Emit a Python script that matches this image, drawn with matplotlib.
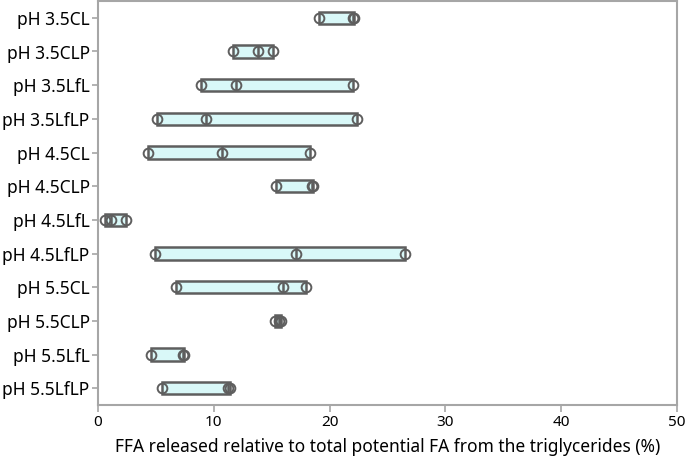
import numpy as np
import matplotlib.pyplot as plt

plt.rcParams['font.family'] = ['Noto Sans', 'DejaVu Sans']

# Groups, top to bottom
groups = ['pH 3.5CL', 'pH 3.5CLP', 'pH 3.5LfL', 'pH 3.5LfLP',
          'pH 4.5CL', 'pH 4.5CLP', 'pH 4.5LfL', 'pH 4.5LfLP',
          'pH 5.5CL', 'pH 5.5CLP', 'pH 5.5LfL', 'pH 5.5LfLP']

# FFA released (%) - three replicates per group
ffa = [
    [19.1, 22.0, 22.1],
    [11.7, 13.8, 15.1],
    [8.9, 11.9, 22.0],
    [5.1, 9.3, 22.4],
    [4.3, 10.7, 18.3],
    [15.4, 18.45, 18.55],
    [0.6, 1.1, 2.4],
    [4.9, 17.1, 26.5],
    [6.7, 16.0, 18.0],
    [15.3, 15.6, 15.8],
    [4.6, 7.3, 7.4],
    [5.5, 11.2, 11.4],
]

xticks = [0, 10, 20, 30, 40, 50]
xlabel = 'FFA released relative to total potential FA from the triglycerides (%)'

edge = '#5e5e5e'
frame = '#a6a6a6'
box_h = 0.36

fig = plt.figure(figsize=(6.85, 4.65), dpi=100)
ax = fig.add_axes([98 / 685, 1 - 405 / 465, 579 / 685, 404 / 465])

pos = np.arange(len(groups))
for i, vals in enumerate(ffa):
    vals = np.sort(vals)
    ax.barh(i, vals[-1] - vals[0], left=vals[0], height=box_h,
            color='#d9f8f8', edgecolor=edge, linewidth=1.8, zorder=2)
    ax.vlines(np.median(vals), i - box_h / 2, i + box_h / 2,
              color=edge, linewidth=1.8, zorder=3)
    ax.plot(vals, [i] * len(vals), 'o', mfc='none', mec=edge,
            ms=7, mew=1.4, zorder=4)

ax.set_xlim(0, 50)
ax.set_ylim(len(groups) - 0.5, -0.5)
ax.set_yticks(pos)
ax.set_yticklabels(groups, fontsize=12.5)
ax.set_xticks(xticks)
ax.tick_params(axis='x', labelsize=11, length=5, color=frame, width=1.2, pad=2)
ax.tick_params(axis='y', length=4, color=frame, width=1.2, pad=2)
ax.set_xlabel(xlabel, fontsize=12.5, labelpad=6)

for s in ax.spines.values():
    s.set_color(frame)
    s.set_linewidth(1.5)

fig.savefig('out.png', dpi=100)
